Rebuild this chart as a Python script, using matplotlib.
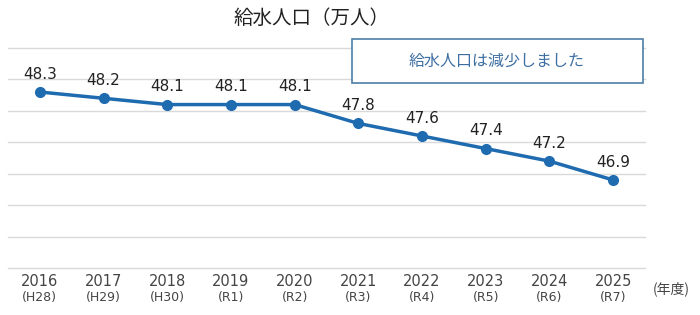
import matplotlib.pyplot as plt
import matplotlib.transforms as mtransforms

plt.rcParams['font.family'] = ['Noto Sans CJK JP', 'DejaVu Sans']

years = ['2016', '2017', '2018', '2019', '2020', '2021', '2022', '2023', '2024', '2025']
eras = ['(H28)', '(H29)', '(H30)', '(R1)', '(R2)', '(R3)', '(R4)', '(R5)', '(R6)', '(R7)']
population = [48.3, 48.2, 48.1, 48.1, 48.1, 47.8, 47.6, 47.4, 47.2, 46.9]

fig = plt.figure(figsize=(7, 3.15), dpi=100)
ax = fig.add_axes([8 / 700, 1 - 268 / 315, 637 / 700, 220 / 315])

x = list(range(len(years)))
ax.plot(x, population, color='#1f6bb0', linewidth=2.5, marker='o', markersize=7)

for xi, v in zip(x, population):
    ax.annotate(f'{v:.1f}', (xi, v), textcoords='offset points', xytext=(0, 7.5),
                ha='center', va='bottom', fontsize=11, color='#222222',
                family='DejaVu Sans')

ax.set_xlim(-0.5, len(years) - 0.5)
ax.set_ylim(45.5, 49.0)
ax.set_yticks([45.5 + 0.5 * i for i in range(8)])
ax.yaxis.grid(True, color='#d9d9d9', linewidth=1)
for gl in ax.get_ygridlines():
    gl.set_clip_on(False)
ax.set_axisbelow(True)
ax.tick_params(axis='y', left=False, labelleft=False)
ax.set_xticks(x)
ax.set_xticklabels([])
ax.tick_params(axis='x', bottom=False)
for s in ax.spines.values():
    s.set_visible(False)

# year and era labels under the axis
trans = mtransforms.blended_transform_factory(ax.transData, fig.transFigure)
for xi, yr, e in zip(x, years, eras):
    ax.text(xi, 1 - 282 / 315, yr, transform=trans, ha='center', va='center',
            fontsize=10.5, color='#444444', family='DejaVu Sans')
    ax.text(xi, 1 - 298 / 315, e, transform=trans, ha='center', va='center',
            fontsize=9, color='#444444', family='DejaVu Sans')

fig.text(312 / 700, 1 - 18 / 315, '給水人口（万人）', ha='center', va='center',
         fontsize=14, color='#222222')
fig.text(671 / 700, 1 - 289 / 315, '(年度)', ha='center', va='center',
         fontsize=10, color='#444444')

box = plt.Rectangle((352 / 700, 1 - 83 / 315), 291 / 700, 44 / 315,
                    transform=fig.transFigure, facecolor='white',
                    edgecolor='#4d7ea8', linewidth=1.2)
fig.patches.append(box)
fig.text(497 / 700, 1 - 61 / 315, '給水人口は減少しました', ha='center', va='center',
         fontsize=11.5, color='#3d6fa3')

fig.savefig('out.png', dpi=100)
